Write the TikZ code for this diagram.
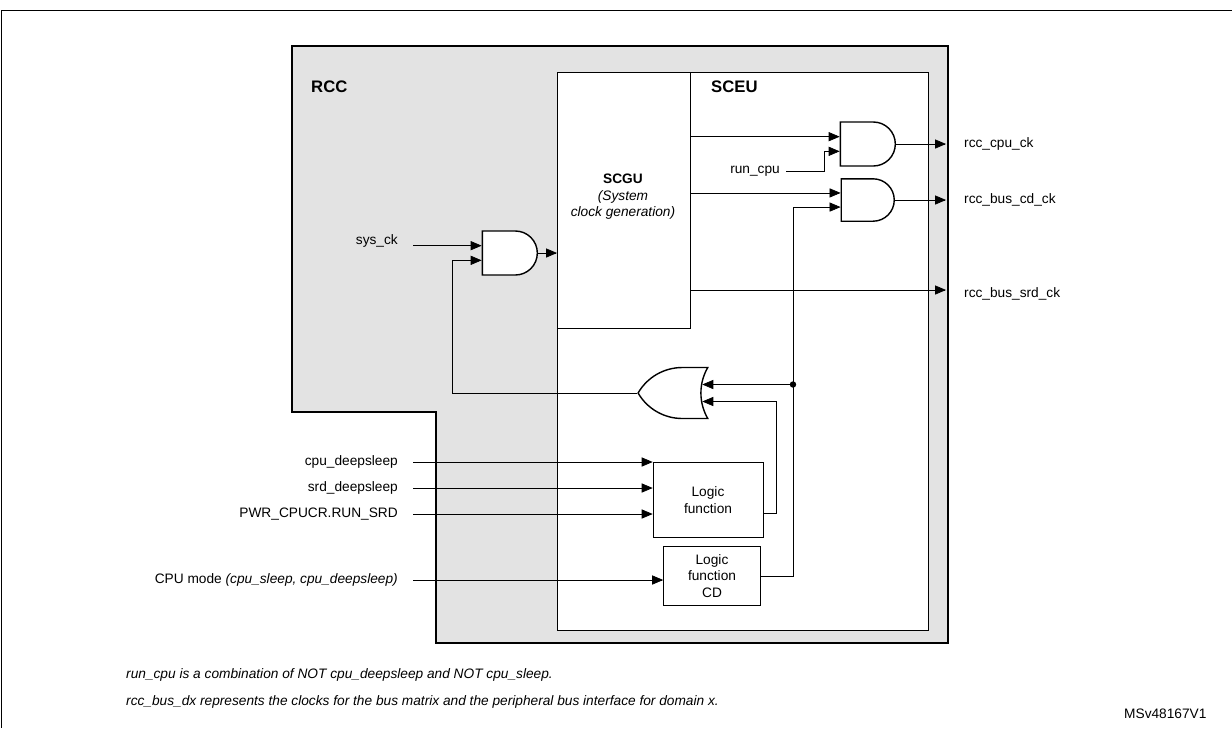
\documentclass[tikz,border=0pt]{standalone}
\usepackage{fontspec}
\setmainfont{Liberation Sans}
\usetikzlibrary{arrows,shapes.gates.logic.US}
\tikzset{
  lbl/.style={font=\fontsize{7.8}{9.4}\selectfont},
  gate/.style={draw,fill=white,thick,logic gate inputs=nn,minimum width=1.06cm,minimum height=0.88cm,inner sep=0pt},
  sig/.style={arrows={-triangle 45}},
}
\begin{document}
\begin{tikzpicture}[x=0.02cm,y=-0.02cm]
\useasboundingbox (0,0) rectangle (1232,728);

% frame
\draw (1232,10) -- (1,10) -- (1,728);

% RCC region
\draw[line width=1.4pt,fill=black!11] (292,46) -- (948,46) -- (948,643) -- (436,643) -- (436,412) -- (292,412) -- cycle;
\node[font=\bfseries\fontsize{9.5}{11}\selectfont,anchor=west] (rcc) at (305,87) {RCC};

\draw[fill=white] (557,72) rectangle (928,630);
\node[font=\bfseries\fontsize{9.5}{11}\selectfont,anchor=west] (sceu) at (705,87) {SCEU};

\draw (557,72) rectangle (690,328);
\node[lbl,align=center] (scgu) at (623,197) {\textbf{SCGU}\\\textit{(System}\\\textit{clock generation)}};

% gates
\node[and gate US,gate] (and1) at (508,253) {};
\node[and gate US,gate] (and2) at (866,144) {};
\node[and gate US,gate,minimum height=0.8cm] (and3) at (866,200) {};
\node[or gate US,gate,rotate=180,minimum width=1.38cm,minimum height=1.02cm] (or1) at (678,393) {};

% logic boxes
\node[draw,fill=white,lbl,align=center,minimum width=2.2cm,minimum height=1.5cm] (logic) at (708,500) {Logic\\function};
\node[draw,fill=white,lbl,align=center,minimum width=1.94cm,minimum height=1.18cm] (logiccd) at (712,576) {Logic\\function\\CD};

% left inputs
\node[lbl,anchor=east] (sysck) at (404,241) {sys\_ck};
\node[lbl,anchor=east] (cpuds) at (404,462) {cpu\_deepsleep};
\node[lbl,anchor=east] (srdds) at (404,488) {srd\_deepsleep};
\node[lbl,anchor=east] (pwr) at (404,514) {PWR\_CPUCR.RUN\_SRD};
\node[lbl,anchor=east] (cpumode) at (404,580) {CPU mode \textit{(cpu\_sleep, cpu\_deepsleep)}};
\node[lbl,anchor=east] (runcpu) at (786,171) {run\_cpu};

% outputs
\node[lbl,anchor=west] (cpuck) at (958,144) {rcc\_cpu\_ck};
\node[lbl,anchor=west] (cdck) at (958,200) {rcc\_bus\_cd\_ck};
\node[lbl,anchor=west] (srdck) at (958,294) {rcc\_bus\_srd\_ck};

\coordinate (dot) at (793,0 |- or1.input 2);

\draw [sig] (413,0 |- and1.input 1) -- (and1.input 1);
\draw [sig] (and1.output) -- (557,0 |- and1.output);
\draw [sig] (or1.output) -| (452,0 |- and1.input 2) -- (and1.input 2);
\draw [sig] (690,0 |- and2.input 1) -- (and2.input 1);
\draw [sig] (runcpu.east) -| (824,0 |- and2.input 2) -- (and2.input 2);
\draw [sig] (and2.output) -- (946,0 |- and2.output);
\draw [sig] (690,0 |- and3.input 1) -- (and3.input 1);
\draw [sig] (and3.output) -- (946,0 |- and3.output);
\draw [sig] (690,290) -- (946,290);
\draw [sig] (logiccd.east) -| (793,0 |- and3.input 2) -- (and3.input 2);
\draw [sig] (dot) -- (or1.input 2);
\draw [sig] (logic.east |- 0,513) -| (776,0 |- or1.input 1) -- (or1.input 1);
\draw [sig] (413,0 |- cpuds) -- (logic.west |- cpuds);
\draw [sig] (413,0 |- srdds) -- (logic.west |- srdds);
\draw [sig] (413,0 |- pwr) -- (logic.west |- pwr);
\draw [sig] (413,0 |- cpumode) -- (logiccd.west |- cpumode);
\fill (dot) circle (3.2);

% notes
\node[anchor=west,font=\itshape\fontsize{7.8}{9.4}\selectfont] (note1) at (120,675) {run\_cpu is a combination of NOT cpu\_deepsleep and NOT cpu\_sleep.};
\node[anchor=west,font=\itshape\fontsize{7.8}{9.4}\selectfont] (note2) at (120,702) {rcc\_bus\_dx represents the clocks for the bus matrix and the peripheral bus interface for domain x.};
\node[lbl,anchor=west] (ref) at (1118,714) {MSv48167V1};
\end{tikzpicture}
\end{document}
